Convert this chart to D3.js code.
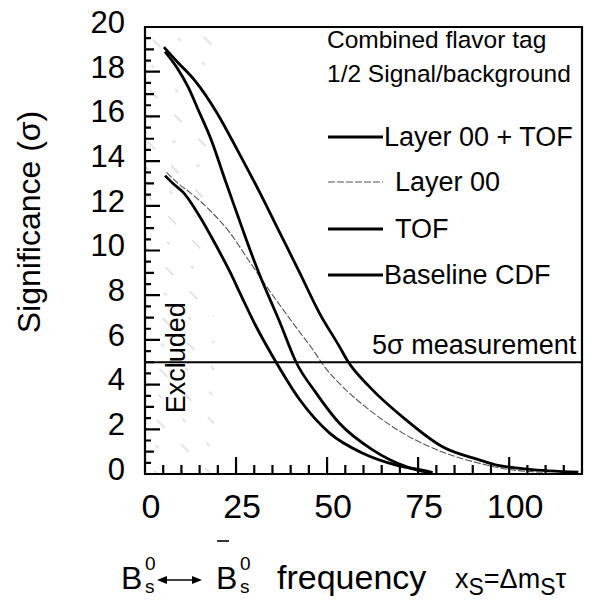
<!DOCTYPE html>
<html>
<head>
<meta charset="utf-8">
<script src="https://cdn.jsdelivr.net/npm/d3@7"></script>
<style>
  html, body { margin: 0; padding: 0; background: #fff; }
  svg { display: block; font-family: "Liberation Sans", Arial, Helvetica, sans-serif; }
</style>
</head>
<body>
<svg id="chart" width="592" height="605"></svg>
<script>
// Data
const seriesNames = ['Layer 00 + TOF', 'Layer 00', 'TOF', 'Baseline CDF'];

const freqL00Tof = [5.2, 9.1, 13.7, 19.6, 26, 31.5, 37, 42.5, 47.9, 53.4, 55.7, 61.6, 71.7, 81.7, 91.8, 96, 105, 119];
const sigL00Tof  = [19.1, 18.4, 17.6, 16.2, 14.3, 12.6, 10.8, 9.0, 7.2, 5.7, 5.04, 3.91, 2.42, 1.22, 0.63, 0.42, 0.22, 0.08];

const freqL00 = [5.9, 9.1, 12.3, 17.8, 23.3, 28.3, 34.2, 40.6, 46.1, 49.3, 54.3, 61.6, 70.8, 82.6, 91.8, 100, 110];
const sigL00  = [13.5, 13.0, 12.6, 11.8, 10.8, 9.6, 8.2, 6.76, 5.56, 4.8, 3.9, 2.87, 1.83, 0.93, 0.48, 0.2, 0.08];

const freqTof = [5.5, 8.7, 11.9, 14.6, 18.3, 21.9, 25.6, 28, 31.5, 37, 41.5, 47, 53.4, 62.5, 71.7, 78];
const sigTof  = [18.9, 18.2, 17.3, 16.3, 14.9, 13.2, 11.5, 10.4, 8.9, 6.8, 5.0, 3.62, 2.27, 1.08, 0.33, 0.06];

const freqBase = [5.5, 8, 10.5, 15.1, 19.6, 23.3, 26.5, 30.2, 36, 42.5, 50.7, 59.8, 69.0, 75.8, 79];
const sigBase  = [13.35, 12.95, 12.6, 11.5, 10.2, 9.05, 7.95, 6.7, 5.0, 3.32, 1.83, 0.93, 0.40, 0.18, 0.06];

const xTicks = [0, 25, 50, 75, 100];
const yTicks = [0, 2, 4, 6, 8, 10, 12, 14, 16, 18, 20];
const measurementLevel = 5;     // 5 sigma line
const excludedLimit = 19;       // excluded frequency region
const legendTitle = ['Combined flavor tag', '1/2 Signal/background'];

// Styles per series (kept apart from the values)
const STYLE = {
    'Layer 00 + TOF': { width: 2.8, color: '#000', dash: null },
    'Layer 00':       { width: 1.1, color: '#555', dash: '7 2' },
    'TOF':            { width: 2.8, color: '#000', dash: null },
    'Baseline CDF':   { width: 2.8, color: '#000', dash: null }
};

const series = [
    { name: seriesNames[0], pts: freqL00Tof.map((f, i) => ({ f, s: sigL00Tof[i] })) },
    { name: seriesNames[1], pts: freqL00.map((f, i) => ({ f, s: sigL00[i] })) },
    { name: seriesNames[2], pts: freqTof.map((f, i) => ({ f, s: sigTof[i] })) },
    { name: seriesNames[3], pts: freqBase.map((f, i) => ({ f, s: sigBase[i] })) }
];

const svg = d3.select('#chart');
const plot = { left: 145, right: 582, top: 27, bottom: 474 };

const xScale = d3.scaleLinear().domain([0, 120]).range([plot.left, plot.right]);
const yScale = d3.scaleLinear().domain([0, 20]).range([plot.bottom, plot.top]);

// Hatched "excluded" region (faint dashes)
const defs = svg.append('defs');
const pat = defs.append('pattern')
    .attr('id', 'hatch')
    .attr('patternUnits', 'userSpaceOnUse')
    .attr('width', 38).attr('height', 34)
    .attr('patternTransform', 'rotate(-45)');
pat.append('path')
    .attr('d', 'M4,0V11M23,17V21')
    .attr('stroke', '#c8c8c8').attr('stroke-width', 1);

svg.append('rect')
    .attr('x', xScale(0))
    .attr('y', yScale(20))
    .attr('width', xScale(excludedLimit) - xScale(0))
    .attr('height', yScale(0) - yScale(20))
    .attr('fill', 'url(#hatch)');

svg.append('text')
    .attr('transform', `translate(${xScale(8.5)}, ${yScale(5.2)}) rotate(-90)`)
    .attr('text-anchor', 'middle')
    .attr('dy', '0.35em')
    .attr('font-size', 27)
    .text('Excluded');

// Curves
const line = d3.line()
    .x(d => xScale(d.f))
    .y(d => yScale(d.s))
    .curve(d3.curveMonotoneX);

svg.selectAll('path.curve')
    .data(series)
    .enter()
    .append('path')
    .attr('class', 'curve')
    .attr('fill', 'none')
    .attr('stroke', d => STYLE[d.name].color)
    .attr('stroke-width', d => STYLE[d.name].width)
    .attr('stroke-dasharray', d => STYLE[d.name].dash)
    .attr('stroke-linejoin', 'round')
    .attr('d', d => line(d.pts));

// 5 sigma measurement line
svg.append('line')
    .attr('x1', xScale(0)).attr('x2', xScale(120))
    .attr('y1', yScale(measurementLevel)).attr('y2', yScale(measurementLevel))
    .attr('stroke', '#000').attr('stroke-width', 2.2);

svg.append('text')
    .attr('x', 372).attr('y', yScale(measurementLevel) - 8)
    .attr('font-size', 27)
    .text('5σ measurement');

// Tick labels
svg.append('g').selectAll('text')
    .data(xTicks)
    .enter()
    .append('text')
    .attr('x', d => xScale(d) + 6)
    .attr('y', 518)
    .attr('text-anchor', 'middle')
    .attr('font-size', 34)
    .text(d => d);

svg.append('g').selectAll('text')
    .data(yTicks)
    .enter()
    .append('text')
    .attr('x', 125)
    .attr('y', d => yScale(d) - 5)
    .attr('dy', '0.35em')
    .attr('text-anchor', 'end')
    .attr('font-size', 31)
    .text(d => d);

// Frame and inward tick marks, built into one path from the scales
const xMinorVals = d3.range(0, 120, 5);
const yMinorVals = d3.range(0, 20.01, 0.5);
const framePath = d3.path();
framePath.rect(plot.left, plot.top, plot.right - plot.left, plot.bottom - plot.top);
xMinorVals.forEach(d => {
    framePath.moveTo(xScale(d), plot.bottom);
    framePath.lineTo(xScale(d), plot.bottom - (d % 25 === 0 ? 17 : 9));
});
yMinorVals.forEach(d => {
    framePath.moveTo(plot.left, yScale(d));
    framePath.lineTo(plot.left + (d % 2 === 0 ? 15 : (d % 1 === 0 ? 9 : 6)), yScale(d));
});
svg.append('path')
    .attr('d', framePath.toString())
    .attr('fill', 'none')
    .attr('stroke', '#000')
    .attr('stroke-width', 2.2);

// Axis titles
svg.append('text')
    .attr('transform', 'translate(29, 222) rotate(-90)')
    .attr('text-anchor', 'middle')
    .attr('dy', '0.35em')
    .attr('font-size', 32)
    .text('Significance (σ)');

const xt = svg.append('g').attr('class', 'x-title');
xt.append('text').attr('x', 121).attr('y', 589).attr('font-size', 32).text('B');
xt.append('text').attr('x', 145).attr('y', 570).attr('font-size', 19).text('0');
xt.append('text').attr('x', 145).attr('y', 593).attr('font-size', 19).text('s');
// double arrow
xt.append('line').attr('x1', 162).attr('x2', 197).attr('y1', 580).attr('y2', 580)
    .attr('stroke', '#000').attr('stroke-width', 1.6);
xt.append('path').attr('d', 'M157,580 L167,576 L167,584 Z').attr('fill', '#000');
xt.append('path').attr('d', 'M202,580 L192,576 L192,584 Z').attr('fill', '#000');
xt.append('text').attr('x', 216).attr('y', 589).attr('font-size', 32).text('B');
xt.append('line').attr('x1', 217).attr('x2', 229).attr('y1', 541).attr('y2', 541)
    .attr('stroke', '#000').attr('stroke-width', 1.6);
xt.append('text').attr('x', 240).attr('y', 570).attr('font-size', 19).text('0');
xt.append('text').attr('x', 240).attr('y', 593).attr('font-size', 19).text('s');
xt.append('text').attr('x', 277).attr('y', 589).attr('font-size', 34).text('frequency');

const xs = xt.append('text').attr('x', 455).attr('y', 588).attr('font-size', 27);
xs.append('tspan').text('x');
xs.append('tspan').attr('dy', 7).attr('font-size', 23).text('S');
xs.append('tspan').attr('dy', -7).text('=Δm');
xs.append('tspan').attr('dy', 7).attr('font-size', 23).text('S');
xs.append('tspan').attr('dy', -7).text('τ');

// Legend
svg.selectAll('text.ltitle')
    .data(legendTitle)
    .enter()
    .append('text')
    .attr('class', 'ltitle')
    .attr('x', 327)
    .attr('y', (d, i) => 48 + i * 34)
    .attr('font-size', 24.5)
    .text(d => d);

const legendRowY = [137, 182, 229, 275];
const legendTextX = [384, 395, 395, 384];
const leg = svg.selectAll('g.leg')
    .data(seriesNames)
    .enter()
    .append('g')
    .attr('class', 'leg');
leg.append('line')
    .attr('x1', 328).attr('x2', 383)
    .attr('y1', (d, i) => legendRowY[i]).attr('y2', (d, i) => legendRowY[i])
    .attr('stroke', d => STYLE[d].color)
    .attr('stroke-width', d => STYLE[d].width)
    .attr('stroke-dasharray', d => STYLE[d].dash);
leg.append('text')
    .attr('x', (d, i) => legendTextX[i])
    .attr('y', (d, i) => legendRowY[i])
    .attr('dy', '0.35em')
    .attr('font-size', 27)
    .text(d => d);
</script>
</body>
</html>
